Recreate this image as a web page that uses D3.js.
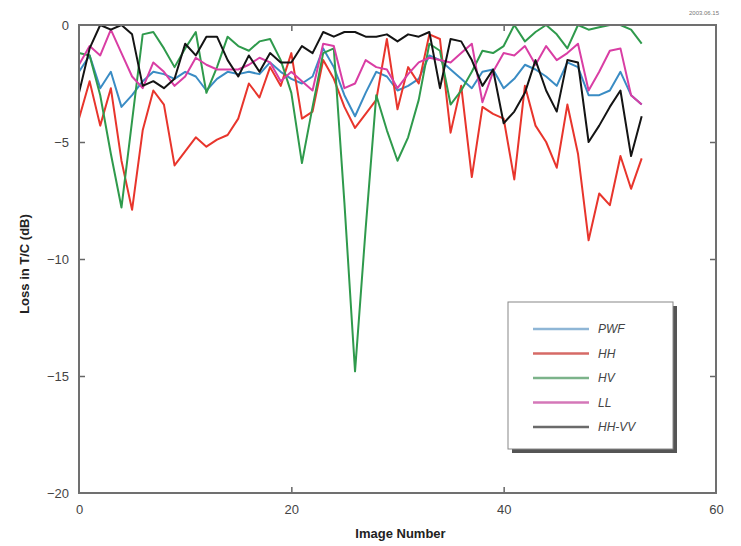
<!DOCTYPE html>
<html>
<head>
<meta charset="utf-8">
<script src="https://cdn.jsdelivr.net/npm/d3@7"></script>
<style>
  body { margin: 0; background: #fff; }
  svg { font-family: "Liberation Sans", Arial, sans-serif; }
</style>
</head>
<body>
<svg id="chart"></svg>
<script>
// data (image index 0..53, loss in dB)
var imageNumbers = d3.range(0, 54);

var pwf = [-2.0, -1.3, -2.7, -2.0, -3.5, -3.0, -2.4, -2.0, -2.1, -2.3,
  -2.0, -2.2, -2.8, -2.3, -2.0, -2.1, -2.0, -2.1, -1.6, -2.0,
  -2.3, -2.5, -2.2, -1.0, -1.8, -3.0, -3.9, -2.9, -2.0, -2.2,
  -2.8, -2.6, -2.3, -1.3, -1.5, -1.9, -2.3, -2.7, -2.0, -1.9,
  -2.7, -2.3, -1.7, -1.9, -2.2, -2.6, -1.6, -1.8, -3.0, -3.0,
  -2.8, -2.0, -3.0, -3.4];

var hh = [-4.0, -2.4, -4.3, -2.7, -5.8, -7.9, -4.5, -2.8, -3.4, -6.0,
  -5.4, -4.8, -5.2, -4.9, -4.7, -4.0, -2.5, -3.1, -1.8, -2.6,
  -1.2, -4.0, -3.7, -1.5, -2.3, -3.5, -4.4, -3.8, -3.2, -0.6,
  -3.6, -1.8, -2.5, -0.4, -0.6, -4.6, -2.6, -6.5, -3.5, -3.8,
  -4.0, -6.6, -2.6, -4.3, -5.0, -6.1, -3.4, -5.5, -9.2, -7.2,
  -7.7, -5.6, -7.0, -5.7];

var hv = [-1.2, -1.3, -3.0, -5.5, -7.8, -4.1, -0.4, -0.3, -1.0, -1.8,
  -1.0, -0.3, -2.9, -1.8, -0.5, -0.9, -1.1, -0.7, -0.6, -1.5,
  -2.9, -5.9, -3.5, -1.2, -1.0, -7.6, -14.8, -8.7, -3.0, -4.5,
  -5.8, -4.8, -3.2, -0.8, -1.1, -3.4, -2.8, -2.0, -1.1, -1.2,
  -0.9, 0.0, -0.7, -0.3, 0.0, -0.4, -1.0, 0.0, -0.2, -0.1,
  0.0, 0.0, -0.2, -0.8];

var ll = [-1.7, -0.9, -1.3, -0.2, -1.2, -2.2, -2.7, -1.6, -2.0, -2.6,
  -2.2, -1.4, -1.7, -1.9, -1.9, -1.9, -1.7, -1.4, -1.6, -2.4,
  -2.0, -2.4, -2.8, -0.8, -0.9, -2.7, -2.5, -1.5, -1.8, -1.9,
  -2.7, -2.1, -1.6, -1.4, -1.5, -1.6, -1.2, -0.8, -3.3, -2.0,
  -1.2, -1.3, -0.9, -1.7, -0.9, -1.5, -1.2, -0.8, -2.8, -2.0,
  -1.1, -1.0, -3.0, -3.4];

var hhvv = [-2.9, -1.0, 0.0, -0.2, 0.0, -0.4, -2.6, -2.4, -2.7, -2.3,
  -0.8, -1.3, -0.5, -0.5, -1.5, -2.2, -1.3, -2.0, -1.2, -1.6,
  -1.6, -0.9, -1.2, -0.3, -0.5, -0.3, -0.3, -0.5, -0.5, -0.4,
  -0.7, -0.4, -0.5, -0.3, -2.7, -0.6, -0.7, -1.5, -2.6, -1.9,
  -4.2, -3.7, -2.9, -1.5, -2.8, -3.7, -1.5, -1.6, -5.0, -4.3,
  -3.5, -2.8, -5.6, -3.9];

var seriesNames = ["PWF", "HH", "HV", "LL", "HH-VV"];
var seriesValues = [pwf, hh, hv, ll, hhvv];
var seriesColors = ["#3a8cc4", "#e8352c", "#2f9a4c", "#d93ea4", "#141414"];
var legendColors = ["#8fb6d6", "#d66a66", "#7cb38a", "#d477b8", "#6a6a6a"];

var xTicks = [0, 20, 40, 60];
var yTicks = [0, -5, -10, -15, -20];

// 表示サイズ
var size = { width: 741, height: 546 };
var margin = { top: 25, right: 25, bottom: 53, left: 79 };
var width = size.width - margin.left - margin.right;
var height = size.height - margin.top - margin.bottom;

var svg = d3.select("#chart")
  .attr("width", size.width)
  .attr("height", size.height);

var g = svg.append("g")
  .attr("transform", "translate(" + margin.left + "," + margin.top + ")");

var x = d3.scaleLinear().domain([0, 60]).range([0, width]);
var y = d3.scaleLinear().domain([-20, 0]).range([height, 0]);

var line = d3.line()
  .x(function(d, i){ return x(imageNumbers[i]); })
  .y(function(d){ return y(d); });

// lines (drawn before frame)
seriesValues.forEach(function(vals, k){
  g.append("path")
    .datum(vals)
    .attr("fill", "none")
    .attr("stroke", seriesColors[k])
    .attr("stroke-width", 2)
    .attr("stroke-linejoin", "round")
    .attr("d", line);
});

// axes, ticks pointing inward on all four sides
function styleAxis(sel){
  sel.select(".domain").remove();
  sel.selectAll(".tick line").attr("stroke", "#666").attr("stroke-width", 1.5);
  sel.selectAll(".tick text")
    .attr("fill", "#444")
    .attr("font-size", 13);
}

g.append("g")
  .attr("transform", "translate(0," + height + ")")
  .call(d3.axisBottom(x).tickValues(xTicks).tickSize(-6).tickPadding(12))
  .call(styleAxis)
  .selectAll(".tick line").filter(function(d){ return d == 0 || d == 60; }).remove();

g.append("g")
  .call(d3.axisTop(x).tickValues(xTicks).tickSize(-6).tickFormat(""))
  .call(styleAxis)
  .selectAll(".tick line").filter(function(d){ return d == 0 || d == 60; }).remove();

g.append("g")
  .call(d3.axisLeft(y).tickValues(yTicks).tickSize(-6).tickPadding(10))
  .call(styleAxis)
  .selectAll(".tick line").filter(function(d){ return d == 0 || d == -20; }).remove();

g.append("g")
  .attr("transform", "translate(" + width + ",0)")
  .call(d3.axisRight(y).tickValues(yTicks).tickSize(-6).tickFormat(""))
  .call(styleAxis)
  .selectAll(".tick line").filter(function(d){ return d == 0 || d == -20; }).remove();

// frame
g.append("rect")
  .attr("width", width)
  .attr("height", height)
  .attr("fill", "none")
  .attr("stroke", "#707070")
  .attr("stroke-width", 2);

// axis titles
svg.append("text")
  .attr("x", margin.left + width / 2 + 3)
  .attr("y", 538)
  .attr("text-anchor", "middle")
  .attr("font-size", 13)
  .attr("font-weight", "bold")
  .attr("fill", "#222")
  .text("Image Number");

svg.append("text")
  .attr("transform", "translate(29," + (margin.top + height / 2 + 5) + ") rotate(-90)")
  .attr("text-anchor", "middle")
  .attr("font-size", 13)
  .attr("font-weight", "bold")
  .attr("fill", "#222")
  .text("Loss in T/C (dB)");

// small stamp top right
svg.append("text")
  .attr("x", 719)
  .attr("y", 15)
  .attr("text-anchor", "end")
  .attr("font-size", 6)
  .attr("fill", "#777")
  .text("2003.06.15");

// legend
var lg = svg.append("g").attr("transform", "translate(508,302)");
lg.append("rect")
  .attr("x", 4).attr("y", 4)
  .attr("width", 165).attr("height", 147)
  .attr("fill", "#555");
lg.append("rect")
  .attr("width", 165).attr("height", 147)
  .attr("fill", "#fff")
  .attr("stroke", "#888")
  .attr("stroke-width", 1);

seriesNames.forEach(function(name, k){
  var ly = 27 + k * 24.5;
  lg.append("line")
    .attr("x1", 25).attr("x2", 81)
    .attr("y1", ly).attr("y2", ly)
    .attr("stroke", legendColors[k])
    .attr("stroke-width", 2.5);
  lg.append("text")
    .attr("x", 90)
    .attr("y", ly + 4)
    .attr("font-size", 12)
    .attr("font-style", "italic")
    .attr("fill", "#444")
    .text(name);
});
</script>
</body>
</html>
